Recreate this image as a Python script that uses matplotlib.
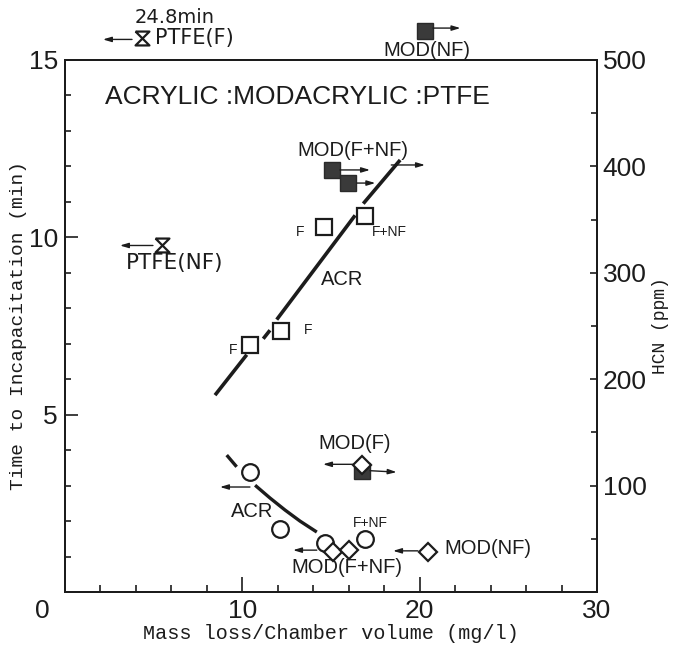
import numpy as np
import matplotlib
matplotlib.use("Agg")
import matplotlib.pyplot as plt
from matplotlib.ticker import MultipleLocator

# =====================================
# Data
# =====================================

# ACR, HCN (open squares, right axis, ppm)
acr_hcn_x = [10.43, 12.2, 14.6, 16.94]
acr_hcn_ppm = [232, 245, 343, 353]

# MOD, HCN (filled squares, right axis, ppm)
mod_hcn_x = [15.04, 15.98, 16.73]
mod_hcn_ppm = [397, 384, 114]
mod_nf_hcn_x = [20.3]
mod_nf_hcn_ppm = [527]   # off scale, drawn above the frame

# ACR, time to incapacitation (open circles, min)
acr_time_x = [10.43, 12.13, 14.66, 16.92]
acr_time_t = [3.39, 1.79, 1.37, 1.48]

# MOD, time to incapacitation (diamonds, min)
mod_time_x = [15.13, 16.02, 20.49, 16.73]
mod_time_t = [1.14, 1.18, 1.14, 3.58]

# PTFE, time to incapacitation (hourglass, min); F point is 24.8 min, off scale
ptfe_x = [4.34, 5.45]
ptfe_t = [15.62, 9.77]

# ACR HCN fit line (broken around the markers), ppm
acr_line_x = [[8.46, 10.25], [11.18, 11.56], [11.94, 16.36], [16.82, 18.9]]
acr_line_ppm = [[185, 223], [238, 246], [256, 354], [365, 406]]

# ACR time curve (broken at the first circle), min
acr_curve_x = [[9.12, 9.68], [10.72, 11.56, 12.41, 13.25, 14.2]]
acr_curve_t = [[3.86, 3.53], [3.01, 2.65, 2.31, 2.0, 1.69]]

# arrows: (x tail, x head, y tail, y head) in min units
arrows = [
    (3.78, 2.14, 15.58, 15.58),
    (4.96, 3.10, 9.77, 9.77),
    (20.75, 22.3, 15.9, 15.9),
    (15.5, 17.2, 11.9, 11.9),
    (16.47, 17.5, 11.53, 11.53),
    (18.4, 20.3, 12.04, 12.04),
    (10.43, 8.74, 2.96, 2.96),
    (16.24, 14.55, 3.6, 3.6),
    (17.2, 18.7, 3.42, 3.38),
    (14.2, 12.86, 1.18, 1.18),
    (19.9, 18.5, 1.16, 1.16),
]

ink = "#1c1c1c"
narrow = ["Liberation Sans", "DejaVu Sans"]
mono = ["Liberation Mono", "DejaVu Sans Mono"]
plain = ["DejaVu Sans"]

hourglass = [(-1, 1), (1, 1), (-1, -1), (1, -1), (-1, 1)]

# =====================================
# Figure
# =====================================

fig = plt.figure(figsize=(6.84, 6.55), dpi=100)
ax = fig.add_axes([0.095, 0.0962, 0.7778, 0.8122])
ax2 = ax.twinx()
ax.set_zorder(ax2.get_zorder() + 1)
ax.patch.set_visible(False)

ax.set_xlim(0, 30)
ax.set_ylim(0, 15)
ax2.set_ylim(0, 500)

for a in (ax, ax2):
    for s in a.spines.values():
        s.set_linewidth(1.4)
        s.set_color(ink)

ax.set_xticks([10, 20, 30])
ax.xaxis.set_minor_locator(MultipleLocator(2))
ax.set_yticks([5, 10, 15])
ax.yaxis.set_minor_locator(MultipleLocator(1))
ax2.set_yticks([100, 200, 300, 400, 500])
ax2.yaxis.set_minor_locator(MultipleLocator(50))

ax.tick_params(axis="x", which="major", direction="in", length=11, width=1.2,
               pad=5, colors=ink)
ax.tick_params(axis="x", which="minor", direction="in", length=5, width=1.2,
               colors=ink)
ax.tick_params(axis="y", which="major", direction="in", length=9, width=1.2,
               pad=5, colors=ink)
ax.tick_params(axis="y", which="minor", direction="in", length=4, width=1.2,
               colors=ink)
ax2.tick_params(axis="y", which="major", direction="in", length=5, width=1.2,
                pad=4, colors=ink)
ax2.tick_params(axis="y", which="minor", direction="in", length=4, width=1.2,
                colors=ink)

for lab in ax.get_xticklabels() + ax.get_yticklabels() + ax2.get_yticklabels():
    lab.set_family(narrow)
    lab.set_fontsize(19)

ax.text(-1.3, -0.55, "0", ha="center", va="center", fontsize=19,
        family=narrow, color=ink, clip_on=False)

ax.set_xlabel("Mass loss/Chamber volume (mg/l)", family=mono, fontsize=14.5,
              color=ink, labelpad=1)
ax.set_ylabel("Time to Incapacitation (min)", family=mono, fontsize=14,
              color=ink, labelpad=1)
ax2.set_ylabel("HCN (ppm)", family=mono, fontsize=13, color=ink, labelpad=4)

# =====================================
# Marks
# =====================================

for xs, ys in zip(acr_line_x, acr_line_ppm):
    ax2.plot(xs, ys, color=ink, lw=2.6, solid_capstyle="butt")

for xs, ys in zip(acr_curve_x, acr_curve_t):
    ax.plot(xs, ys, color=ink, lw=2.4, solid_capstyle="butt")

ax2.plot(acr_hcn_x, acr_hcn_ppm, "s", ms=11, mfc="white", mec=ink, mew=1.6)
ax2.plot(mod_hcn_x, mod_hcn_ppm, "s", ms=11, mfc="#3a3a3a", mec="#2a2a2a",
         mew=1.0)
ax2.plot(mod_nf_hcn_x, mod_nf_hcn_ppm, "s", ms=11, mfc="#3a3a3a",
         mec="#2a2a2a", mew=1.0, clip_on=False)

ax.plot(acr_time_x, acr_time_t, "o", ms=12, mfc="white", mec=ink, mew=1.6)
ax.plot(mod_time_x, mod_time_t, "D", ms=9, mfc="white", mec=ink, mew=1.6)
ax.plot(ptfe_x, ptfe_t, marker=hourglass, ls="none", ms=10, mfc="none",
        mec=ink, mew=1.6, clip_on=False)

for x0, x1, y0, y1 in arrows:
    ax.annotate("", xy=(x1, y1), xytext=(x0, y0), annotation_clip=False,
                arrowprops=dict(arrowstyle="-|>,head_length=0.5,head_width=0.15",
                                color=ink, lw=1.0, shrinkA=0, shrinkB=0))

# =====================================
# Labels
# =====================================

ax.text(13.1, 13.95, "ACRYLIC :MODACRYLIC :PTFE", ha="center", va="center",
        fontsize=19, family=narrow, color=ink)

ax.text(6.2, 16.2, "24.8min", ha="center", va="center", fontsize=14,
        family=plain, color=ink, clip_on=False)
ax.text(5.1, 15.62, "PTFE(F)", ha="left", va="center", fontsize=15,
        family=plain, color=ink, clip_on=False)
ax.text(6.2, 9.28, "PTFE(NF)", ha="center", va="center", fontsize=15.5,
        family=plain, color=ink)
ax.text(20.4, 15.27, "MOD(NF)", ha="center", va="center", fontsize=14.5,
        family=narrow, color=ink, clip_on=False)
ax.text(16.24, 12.45, "MOD(F+NF)", ha="center", va="center", fontsize=14.5,
        family=narrow, color=ink)
ax.text(15.62, 8.8, "ACR", ha="center", va="center", fontsize=14.5,
        family=narrow, color=ink)
ax.text(9.47, 6.82, "F", ha="center", va="center", fontsize=10,
        family=narrow, color=ink)
ax.text(13.7, 7.39, "F", ha="center", va="center", fontsize=10,
        family=narrow, color=ink)
ax.text(13.25, 10.15, "F", ha="center", va="center", fontsize=10,
        family=narrow, color=ink)
ax.text(17.3, 10.15, "F+NF", ha="left", va="center", fontsize=10,
        family=narrow, color=ink)

ax.text(16.36, 4.2, "MOD(F)", ha="center", va="center", fontsize=14.5,
        family=narrow, color=ink)
ax.text(10.55, 2.26, "ACR", ha="center", va="center", fontsize=14.5,
        family=narrow, color=ink)
ax.text(17.2, 1.95, "F+NF", ha="center", va="center", fontsize=10,
        family=narrow, color=ink)
ax.text(15.9, 0.7, "MOD(F+NF)", ha="center", va="center", fontsize=14.5,
        family=narrow, color=ink)
ax.text(21.4, 1.24, "MOD(NF)", ha="left", va="center", fontsize=14.5,
        family=narrow, color=ink)

plt.savefig("out.png", dpi=100)
